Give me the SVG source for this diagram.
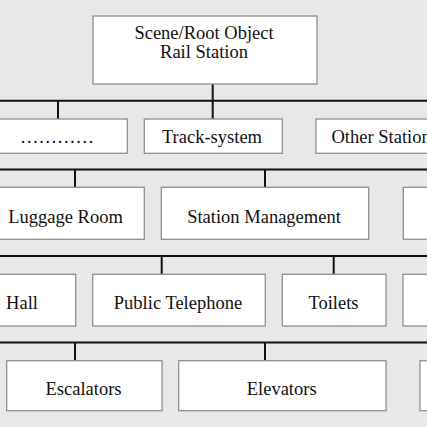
<svg xmlns="http://www.w3.org/2000/svg" width="427" height="427" viewBox="0 0 427 427">
<style>
.box{fill:#ffffff;stroke:#8f8f8f;stroke-width:1.3}
.lbl{font-family:"Liberation Serif","Times New Roman",serif;font-size:18.5px;fill:#111;text-anchor:middle}
.ln{stroke:#111;stroke-width:2;fill:none}
</style>
<rect width="427" height="427" fill="#e8e8e8"/>
<g id="connectors">
<line class="ln" x1="212.7" y1="84" x2="212.7" y2="101"/>
<line class="ln" x1="0" y1="100.7" x2="427" y2="100.7"/>
<line class="ln" x1="58" y1="100" x2="58" y2="119"/>
<line class="ln" x1="212.7" y1="100" x2="212.7" y2="119"/>
<line class="ln" x1="0" y1="169.5" x2="427" y2="169.5"/>
<line class="ln" x1="75" y1="169" x2="75" y2="187"/>
<line class="ln" x1="265" y1="169" x2="265" y2="187"/>
<line class="ln" x1="0" y1="256" x2="427" y2="256"/>
<line class="ln" x1="161.7" y1="256" x2="161.7" y2="274"/>
<line class="ln" x1="333.7" y1="256" x2="333.7" y2="274"/>
<line class="ln" x1="0" y1="342.5" x2="427" y2="342.5"/>
<line class="ln" x1="75" y1="342" x2="75" y2="361"/>
<line class="ln" x1="265" y1="342" x2="265" y2="361"/>
</g>
<g id="root">
<rect class="box" x="93" y="16" width="224" height="68"/>
<text class="lbl" x="204" y="39">Scene/Root Object</text>
<text class="lbl" x="204" y="57.5">Rail Station</text>
</g>
<g id="dots">
<rect class="box" x="-10" y="119" width="137.3" height="34.3"/>
<text class="lbl" x="57" y="143">…………</text>
</g>
<g id="track-system">
<rect class="box" x="144.3" y="119" width="138" height="34.3"/>
<text class="lbl" x="212" y="143">Track-system</text>
</g>
<g id="other-station">
<rect class="box" x="316" y="119" width="130" height="34.3"/>
<text class="lbl" x="331.5" y="143" style="text-anchor:start">Other Station</text>
</g>
<g id="luggage-room">
<rect class="box" x="-13" y="187.3" width="157.3" height="52"/>
<text class="lbl" x="65.5" y="222.7">Luggage Room</text>
</g>
<g id="station-management">
<rect class="box" x="161.3" y="187.3" width="207.4" height="52"/>
<text class="lbl" x="264" y="222.7">Station Management</text>
</g>
<g id="row3-right">
<rect class="box" x="403.3" y="187.3" width="40" height="52"/>
</g>
<g id="hall">
<rect class="box" x="-20" y="274.3" width="95.7" height="51.7"/>
<text class="lbl" x="22" y="309">Hall</text>
</g>
<g id="public-telephone">
<rect class="box" x="92.7" y="274.3" width="172.6" height="51.7"/>
<text class="lbl" x="178" y="309">Public Telephone</text>
</g>
<g id="toilets">
<rect class="box" x="282.3" y="274.3" width="103.7" height="51.7"/>
<text class="lbl" x="333.5" y="309">Toilets</text>
</g>
<g id="row4-right">
<rect class="box" x="403" y="274.3" width="40" height="51.7"/>
</g>
<g id="escalators">
<rect class="box" x="6.7" y="360.7" width="155.3" height="50"/>
<text class="lbl" x="83.5" y="395">Escalators</text>
</g>
<g id="elevators">
<rect class="box" x="178.7" y="360.7" width="207.3" height="50"/>
<text class="lbl" x="281.7" y="395">Elevators</text>
</g>
<g id="row5-right">
<rect class="box" x="420" y="360.7" width="30" height="50"/>
</g>
</svg>
